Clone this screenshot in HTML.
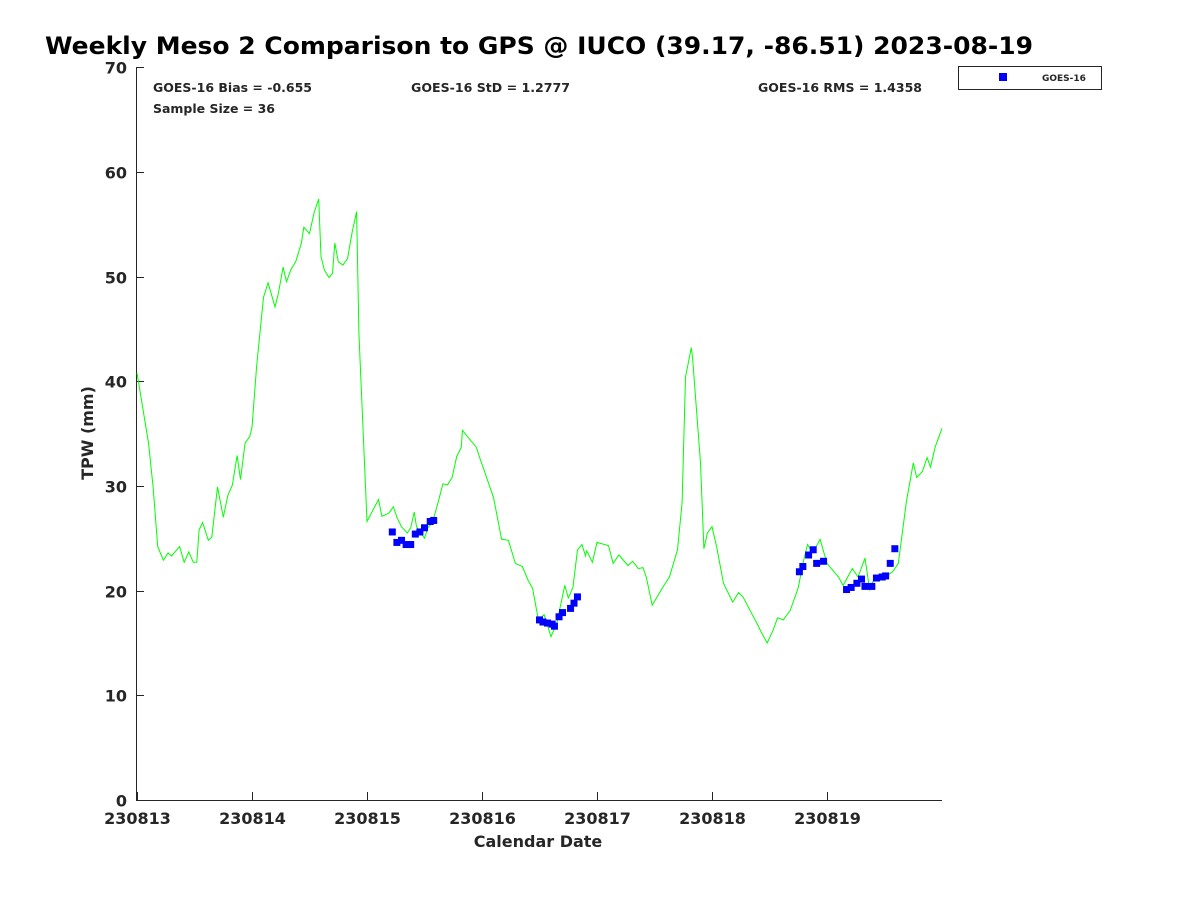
<!DOCTYPE html>
<html><head><meta charset="utf-8"><style>
body{margin:0;background:#fff;}
svg text{font-family:"DejaVu Sans","Liberation Sans",sans-serif;font-weight:bold;fill:#262626;}
</style></head><body>
<svg width="1200" height="900" xmlns="http://www.w3.org/2000/svg">
<text x="45" y="54" font-size="24" textLength="988" lengthAdjust="spacingAndGlyphs" style="fill:#000">Weekly Meso 2 Comparison to GPS @ IUCO (39.17, -86.51) 2023-08-19</text>
<g id="axes"></g>
<g id="series"></g>
<text x="153" y="92" font-size="12" textLength="159" lengthAdjust="spacingAndGlyphs">GOES-16 Bias = -0.655</text>
<text x="411" y="92" font-size="12" textLength="159" lengthAdjust="spacingAndGlyphs">GOES-16 StD = 1.2777</text>
<text x="758" y="92" font-size="12" textLength="164" lengthAdjust="spacingAndGlyphs">GOES-16 RMS = 1.4358</text>
<text x="153" y="113" font-size="12" textLength="122" lengthAdjust="spacingAndGlyphs">Sample Size = 36</text>
<g>
<rect x="958.5" y="66.5" width="143" height="23" fill="#fff" stroke="#262626" stroke-width="1"/>
<rect x="999" y="73" width="8" height="8" fill="#0000ff"/>
<text x="1042" y="81" font-size="9">GOES-16</text>
</g>
<text x="538" y="847" font-size="16" text-anchor="middle">Calendar Date</text>
<text transform="translate(93,433) rotate(-90)" font-size="16" text-anchor="middle">TPW (mm)</text>
</svg>
<script>
const xTickLabels=["230813","230814","230815","230816","230817","230818","230819"];
const yTicks=[0,10,20,30,40,50,60,70];
const gpsTime=[0.00,0.10,0.14,0.18,0.23,0.27,0.30,0.37,0.41,0.45,0.49,0.52,0.54,0.57,0.62,0.65,0.70,0.75,0.79,0.83,0.87,0.90,0.94,0.98,1.00,1.04,1.10,1.14,1.20,1.23,1.27,1.30,1.34,1.38,1.43,1.45,1.50,1.54,1.58,1.60,1.63,1.67,1.70,1.72,1.75,1.79,1.83,1.87,1.91,1.93,2.00,2.10,2.13,2.19,2.23,2.26,2.30,2.35,2.38,2.41,2.43,2.50,2.53,2.57,2.62,2.66,2.70,2.74,2.78,2.82,2.83,2.95,2.98,3.10,3.17,3.23,3.29,3.35,3.40,3.44,3.49,3.54,3.60,3.65,3.72,3.75,3.79,3.83,3.87,3.90,3.91,3.96,4.00,4.10,4.14,4.19,4.27,4.31,4.36,4.40,4.43,4.48,4.57,4.63,4.70,4.74,4.77,4.82,4.83,4.90,4.93,4.96,5.00,5.04,5.10,5.18,5.23,5.27,5.35,5.39,5.43,5.48,5.53,5.57,5.62,5.68,5.75,5.79,5.83,5.87,5.90,5.94,6.00,6.10,6.14,6.22,6.27,6.33,6.37,6.42,6.50,6.57,6.62,6.69,6.75,6.78,6.83,6.87,6.90,6.94,7.00];
const gpsTpw=[40.8,34.1,29.9,24.2,22.9,23.6,23.3,24.2,22.7,23.7,22.7,22.7,25.8,26.5,24.8,25.1,29.9,27.0,29.1,30.1,32.9,30.6,34.1,34.7,35.6,41.4,48.0,49.4,47.1,48.4,50.9,49.5,50.7,51.4,53.2,54.7,54.1,56.1,57.4,51.9,50.6,49.9,50.3,53.2,51.4,51.1,51.7,54.2,56.2,44.6,26.6,28.7,27.1,27.4,28.0,27.0,26.1,25.5,26.0,27.5,26.1,25.0,26.0,26.5,28.5,30.2,30.1,30.8,32.8,33.7,35.3,33.7,32.7,28.9,24.9,24.8,22.6,22.3,21.0,20.2,17.2,17.7,15.6,16.9,20.5,19.3,20.3,23.9,24.4,23.3,23.8,22.7,24.6,24.3,22.6,23.4,22.4,22.8,22.1,22.2,21.2,18.6,20.3,21.3,23.9,28.4,40.4,43.2,42.3,32.2,24.0,25.5,26.1,24.2,20.7,18.9,19.8,19.4,17.7,16.9,16.0,15.0,16.2,17.4,17.2,18.1,20.3,22.6,24.4,23.7,24.1,24.9,22.6,21.3,20.5,22.1,21.3,23.1,20.1,21.4,21.3,21.8,22.6,28.5,32.2,30.8,31.4,32.7,31.8,33.7,35.5];
const goesTime=[2.22,2.26,2.30,2.34,2.38,2.42,2.46,2.50,2.55,2.58,3.50,3.53,3.57,3.61,3.63,3.67,3.70,3.77,3.80,3.83,5.76,5.79,5.84,5.88,5.91,5.97,6.17,6.21,6.26,6.30,6.33,6.39,6.43,6.48,6.51,6.55,6.59];
const goesTpw=[25.6,24.6,24.8,24.4,24.4,25.4,25.6,26.0,26.6,26.7,17.2,17.0,16.9,16.8,16.6,17.5,17.9,18.3,18.8,19.4,21.8,22.3,23.4,23.9,22.6,22.8,20.1,20.3,20.7,21.1,20.4,20.4,21.2,21.3,21.4,22.6,24.0];

const NS="http://www.w3.org/2000/svg";
const X0=137,DAYW=115,Y0=800,YSC=10.47;
const xs=t=>X0+t*DAYW, ys=v=>Y0-v*YSC;
function mk(tag,attrs,parent){const e=document.createElementNS(NS,tag);for(const k in attrs)e.setAttribute(k,attrs[k]);parent.appendChild(e);return e;}
const ax=document.getElementById('axes'), se=document.getElementById('series');
let l=mk('line',{x1:136.5,y1:67,x2:136.5,y2:800,stroke:'#262626','stroke-width':1},ax);


l=mk('line',{x1:136,y1:800.5,x2:942,y2:800.5,stroke:'#262626','stroke-width':1},ax);


yTicks.forEach(v=>{
 const y=Math.round(ys(v))+0.5;
 const tk=mk('line',{x1:136,y1:y,x2:144,y2:y,stroke:'#262626'},ax);
 
 
 const tx=mk('text',{x:127,y:y+6,'font-size':16,'text-anchor':'end'},ax);
 tx.textContent=v;
 
 
});
xTickLabels.forEach((s,i)=>{
 const x=Math.round(xs(i))+0.5;
 const tk=mk('line',{x1:x,y1:800,x2:x,y2:792,stroke:'#262626'},ax);
 
 
 const tx=mk('text',{x:x,y:824,'font-size':16,'text-anchor':'middle'},ax);
 tx.textContent=s;
 
 
});
const pts=gpsTime.map((t,i)=>xs(t).toFixed(1)+','+ys(gpsTpw[i]).toFixed(1)).join(' ');
const pl=mk('polyline',{points:pts,fill:'none',stroke:'#00ff00','stroke-width':1},se);


goesTime.forEach((t,i)=>{
 const r=mk('rect',{x:xs(t)-3.5,y:ys(goesTpw[i])-3.5,width:7,height:7,fill:'#0000ff'},se);
 
 
});
</script>
</body></html>
